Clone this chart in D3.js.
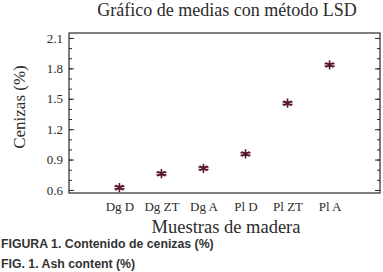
<!DOCTYPE html>
<html>
<head>
<meta charset="utf-8">
<script src="https://cdn.jsdelivr.net/npm/d3@7"></script>
<style>
  body { margin: 0; background: #fff; }
  svg { display: block; }
</style>
</head>
<body>
<svg width="383" height="272"></svg>
<script>
var muestras = ["Dg D", "Dg ZT", "Dg A", "Pl D", "Pl ZT", "Pl A"];
var medias = [0.623, 0.761, 0.814, 0.955, 1.456, 1.834];
var limInf = [0.611, 0.749, 0.802, 0.943, 1.444, 1.822];
var limSup = [0.635, 0.773, 0.826, 0.967, 1.468, 1.846];
var yTicks = [0.6, 0.9, 1.2, 1.5, 1.8, 2.1];
var yMinor = [0.6, 0.7, 0.8, 0.9, 1.0, 1.1, 1.2, 1.3, 1.4, 1.5, 1.6, 1.7, 1.8, 1.9, 2.0, 2.1];

var data = muestras.map(function(m, i) {
  return {muestra: m, media: medias[i], lo: limInf[i], hi: limSup[i]};
});

var svg = d3.select("svg"),
    margin = {top: 33, right: 3, bottom: 79, left: 69},
    width = +svg.attr("width") - margin.left - margin.right,
    height = +svg.attr("height") - margin.top - margin.bottom;

var serif = "'Liberation Serif', 'Times New Roman', serif";
var ink = "#2b2b2b";
var markColor = "#5a1a2c";

var x = d3.scalePoint().domain(muestras).range([0, width]).padding(1.2),
    y = d3.scaleLinear().domain([0.57, 2.149]).range([height, 0]);

var g = svg.append("g")
    .attr("transform", "translate(" + margin.left + "," + margin.top + ")");

// frame
g.append("rect")
    .attr("width", width)
    .attr("height", height)
    .attr("fill", "none")
    .attr("stroke", ink)
    .attr("stroke-width", 1.2);

// left axis, ticks pointing inside
var yl = g.append("g")
    .call(d3.axisLeft(y).tickValues(yTicks).tickSize(-5).tickPadding(6).tickFormat(d3.format(".1f")));
yl.select(".domain").remove();
yl.selectAll("line").attr("stroke", ink);
yl.selectAll("text").attr("font-family", serif).attr("font-size", 13).attr("fill", ink);

var ylm = g.append("g")
    .call(d3.axisLeft(y).tickValues(yMinor).tickSize(-3).tickFormat(""));
ylm.select(".domain").remove();
ylm.selectAll("line").attr("stroke", ink);

// right axis ticks
var yr = g.append("g")
    .attr("transform", "translate(" + width + ",0)")
    .call(d3.axisRight(y).tickValues(yTicks).tickSize(-5).tickFormat(""));
yr.select(".domain").remove();
yr.selectAll("line").attr("stroke", ink);

var yrm = g.append("g")
    .attr("transform", "translate(" + width + ",0)")
    .call(d3.axisRight(y).tickValues(yMinor).tickSize(-3).tickFormat(""));
yrm.select(".domain").remove();
yrm.selectAll("line").attr("stroke", ink);

// bottom labels
var xa = g.append("g")
    .attr("transform", "translate(0," + height + ")")
    .call(d3.axisBottom(x).tickSize(0).tickPadding(9));
xa.select(".domain").remove();
xa.selectAll("text").attr("font-family", serif).attr("font-size", 13).attr("fill", ink);

// LSD intervals
var pts = g.selectAll(".pt")
    .data(data)
  .enter().append("g")
    .attr("class", "pt");

pts.append("line")
    .attr("x1", function(d) { return x(d.muestra); })
    .attr("x2", function(d) { return x(d.muestra); })
    .attr("y1", function(d) { return y(d.lo); })
    .attr("y2", function(d) { return y(d.hi); })
    .attr("stroke", markColor).attr("stroke-width", 1.5);

pts.selectAll(".cap")
    .data(function(d) { return [{m: d.muestra, v: d.lo}, {m: d.muestra, v: d.hi}]; })
  .enter().append("line")
    .attr("x1", function(d) { return x(d.m) - 5; })
    .attr("x2", function(d) { return x(d.m) + 5; })
    .attr("y1", function(d) { return y(d.v); })
    .attr("y2", function(d) { return y(d.v); })
    .attr("stroke", markColor).attr("stroke-width", 1.5);

pts.append("path")
    .attr("d", d3.symbol().type(d3.symbolAsterisk).size(60))
    .attr("transform", function(d) { return "translate(" + x(d.muestra) + "," + y(d.media) + ")"; })
    .attr("fill", "none")
    .attr("stroke", markColor)
    .attr("stroke-width", 1.6);

// titles
svg.append("text")
    .attr("x", 227).attr("y", 16)
    .attr("text-anchor", "middle")
    .attr("font-family", serif).attr("font-size", 18).attr("fill", ink)
    .text("Gráfico de medias con método LSD");

svg.append("text")
    .attr("transform", "translate(25,107) rotate(-90)")
    .attr("text-anchor", "middle")
    .attr("font-family", serif).attr("font-size", 17).attr("fill", ink)
    .text("Cenizas (%)");

svg.append("text")
    .attr("x", 226).attr("y", 233)
    .attr("text-anchor", "middle")
    .attr("font-family", serif).attr("font-size", 18.5).attr("fill", ink)
    .text("Muestras de madera");

svg.append("text")
    .attr("x", 1).attr("y", 248)
    .attr("font-family", "'Liberation Sans', Arial, sans-serif").attr("font-size", 12.3)
    .attr("font-weight", "bold").attr("fill", "#333")
    .text("FIGURA 1. Contenido de cenizas (%)");

svg.append("text")
    .attr("x", 1).attr("y", 268)
    .attr("font-family", "'Liberation Sans', Arial, sans-serif").attr("font-size", 12.3)
    .attr("font-weight", "bold").attr("fill", "#333")
    .text("FIG. 1. Ash content (%)");
</script>
</body>
</html>
